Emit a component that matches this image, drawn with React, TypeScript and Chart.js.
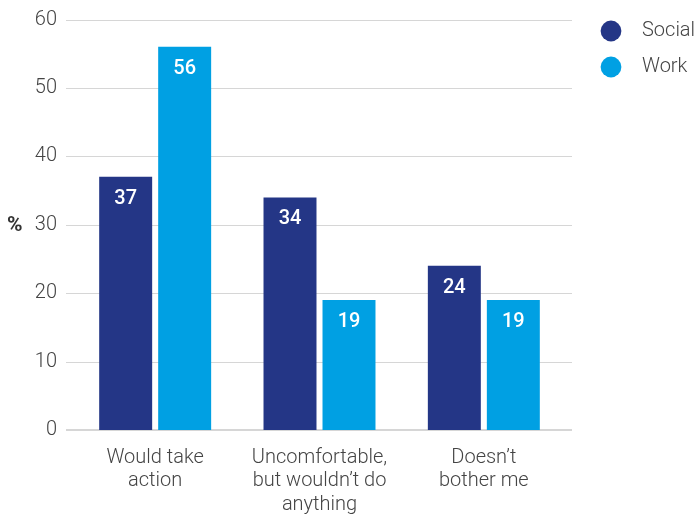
import React, { useEffect, useRef } from "react";
import { Chart, registerables } from "chart.js";

Chart.register(...registerables);

const categories: string[][] = [
  ["Would take", "action"],
  ["Uncomfortable,", "but wouldn’t do", "anything"],
  ["Doesn’t", "bother me"],
];
const seriesNames = ["Social", "Work"];
const socialValues = [37, 34, 24];
const workValues = [56, 19, 19];
const seriesColors = ["#243686", "#00a0e3"];
const yMin = 0;
const yMax = 60;
const yStep = 10;
const axisTitle = "%";

const FONT = "Roboto, 'DejaVu Sans', sans-serif";

const gridPlugin = {
  id: "customGrid",
  beforeDatasetsDraw(chart: any) {
    const y = chart.scales.y;
    const { left, right } = chart.chartArea;
    const ctx = chart.ctx;
    ctx.save();
    y.ticks.forEach((t: any) => {
      const py = Math.round(y.getPixelForValue(t.value));
      ctx.beginPath();
      ctx.strokeStyle = t.value === 0 ? "#c9c9c9" : "#d6d6d6";
      ctx.lineWidth = t.value === 0 ? 1.6 : 1;
      const off = t.value === 0 ? 0 : 0.5;
      ctx.moveTo(left - 7, py + off);
      ctx.lineTo(right + 6, py + off);
      ctx.stroke();
    });
    ctx.restore();
  },
};

const labelPlugin = {
  id: "barLabels",
  afterDatasetsDraw(chart: any) {
    const ctx = chart.ctx;
    ctx.save();
    ctx.fillStyle = "#ffffff";
    ctx.font = `500 20px ${FONT}`;
    ctx.textAlign = "center";
    ctx.textBaseline = "middle";
    chart.data.datasets.forEach((ds: any, i: number) => {
      const meta = chart.getDatasetMeta(i);
      meta.data.forEach((bar: any, j: number) => {
        ctx.fillText(String(ds.data[j]), bar.x, bar.y + 22);
      });
    });
    // axis title
    const { top, bottom } = chart.chartArea;
    ctx.fillStyle = "#333333";
    ctx.font = `bold 21px ${FONT}`;
    ctx.textAlign = "left";
    ctx.fillText(axisTitle, 7, (top + bottom) / 2 + 1);
    // legend
    chart.data.datasets.forEach((ds: any, i: number) => {
      const cy = 31 + i * 36;
      ctx.beginPath();
      ctx.fillStyle = ds.backgroundColor;
      ctx.arc(611, cy, 10.4, 0, Math.PI * 2);
      ctx.fill();
      ctx.fillStyle = "#444444";
      ctx.font = `300 20px ${FONT}`;
      ctx.textAlign = "left";
      ctx.textBaseline = "middle";
      ctx.fillText(ds.label, 642, cy);
    });
    ctx.restore();
  },
};

export default function App() {
  const ref = useRef<HTMLCanvasElement>(null);
  useEffect(() => {
    if (!ref.current) return;
    const chart = new Chart(ref.current, {
      type: "bar",
      data: {
        labels: categories,
        datasets: [
          { label: seriesNames[0], data: socialValues, backgroundColor: seriesColors[0] },
          { label: seriesNames[1], data: workValues, backgroundColor: seriesColors[1] },
        ],
      },
      options: {
        animation: false,
        responsive: false,
        layout: { padding: { left: 0, right: 132, top: 19.5, bottom: 0 } },
        datasets: {
          bar: { categoryPercentage: 0.718, barPercentage: 0.898 },
        },
        plugins: {
          legend: { display: false },
          tooltip: { enabled: false },
        },
        scales: {
          x: {
            grid: { display: false, drawTicks: false },
            border: { display: false },
            ticks: {
              color: "#444444",
              font: { family: FONT, size: 20, weight: "300", lineHeight: 1.18 },
              padding: 16,
              maxRotation: 0,
              autoSkip: false,
            },
            afterFit: (s: any) => {
              s.height = 88;
              s.paddingLeft = 0;
              s.paddingRight = 0;
            },
          },
          y: {
            min: yMin,
            max: yMax,
            grid: { display: false, drawTicks: false },
            border: { display: false },
            ticks: {
              stepSize: yStep,
              color: "#444444",
              font: { family: FONT, size: 20, weight: "300" },
              padding: 16,
            },
            afterFit: (s: any) => {
              s.width = 73;
              s.paddingTop = 0;
              s.paddingBottom = 0;
            },
          },
        },
      },
      plugins: [gridPlugin, labelPlugin],
    });
    return () => chart.destroy();
  }, []);
  return (
    <div style={{ position: "absolute", left: 0, top: 0, width: 698, height: 518, background: "#fff" }}>
      <canvas ref={ref} width={698} height={518} style={{ width: 698, height: 518, display: "block" }} />
    </div>
  );
}
